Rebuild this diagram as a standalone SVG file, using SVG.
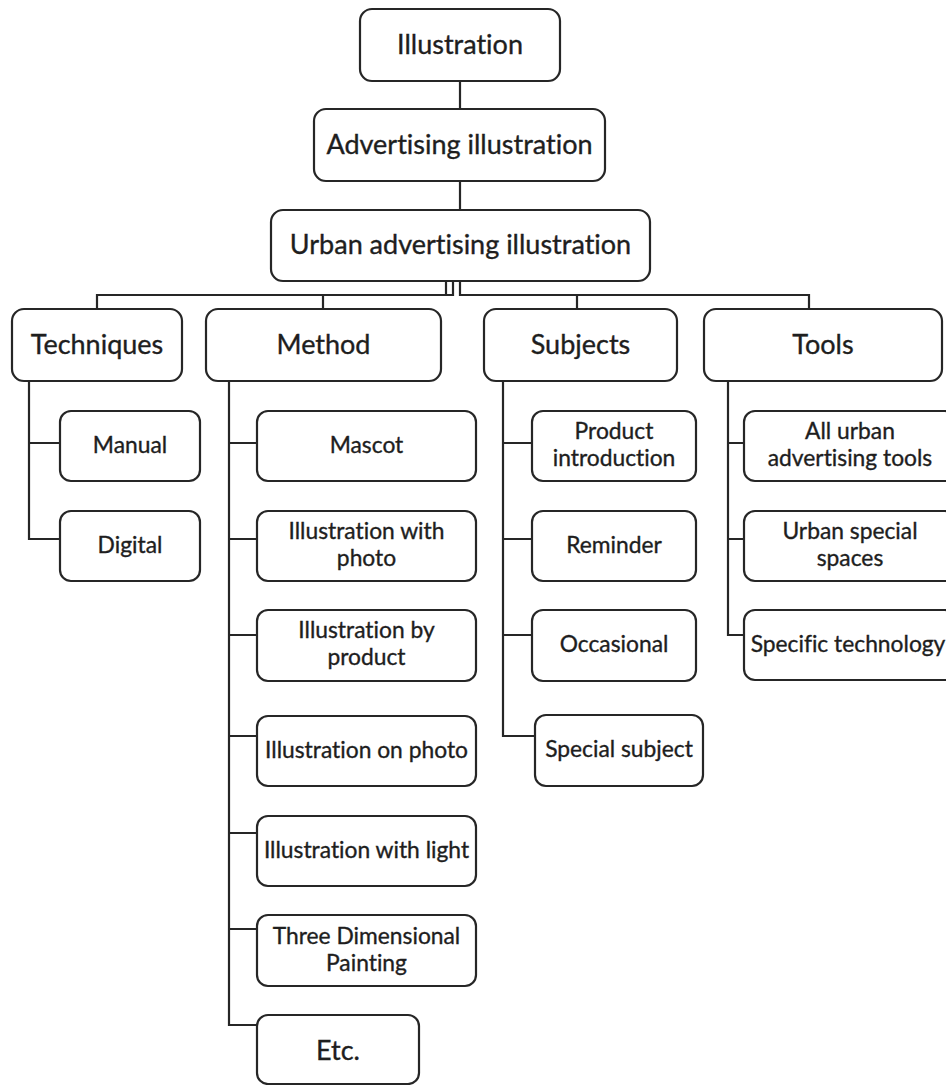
<svg xmlns="http://www.w3.org/2000/svg" width="946" height="1085" viewBox="0 0 946 1085">
<style>
.b{fill:#fff;stroke:#262626;stroke-width:2.2}
.t{font-family:Lato,"Open Sans","Liberation Sans",sans-serif;fill:#1e1e1e;stroke:#1e1e1e;stroke-width:0.35;text-anchor:middle;font-variant-ligatures:none}
.h{font-size:27px}
.l{font-size:22.8px}
.c{fill:none;stroke:#262626;stroke-width:2.2}
</style>
<rect width="946" height="1085" fill="#fff"/>
<g id="connectors">
<path class="c" d="M460,81V109M460,181V210"/>
<path class="c" d="M97,309V295H453V281M446,295V281M323,309V295"/>
<path class="c" d="M460,281V295H809V309M577,295V309"/>
<path class="c" d="M29,381V539H60M29,443H60"/>
<path class="c" d="M229,381V1025H257M229,443H257M229,539H257M229,635H257M229,736H257M229,833H257M229,929H257"/>
<path class="c" d="M503,381V736H535M503,443H532M503,539H532M503,635H532"/>
<path class="c" d="M728,381V635H744M728,443H744M728,539H744"/>
</g>
<g id="n-illustration"><rect class="b" x="360" y="9" width="200" height="72" rx="12"/><text class="t h" x="460" y="54">Illustration</text></g>
<g id="n-advertising"><rect class="b" x="314" y="109" width="291" height="72" rx="12"/><text class="t h" x="459.5" y="154">Advertising illustration</text></g>
<g id="n-urban"><rect class="b" x="271" y="210" width="379" height="71" rx="12"/><text class="t h" x="460.5" y="254">Urban advertising illustration</text></g>
<g id="n-techniques"><rect class="b" x="12" y="309" width="170" height="72" rx="12"/><text class="t h" x="97" y="354">Techniques</text></g>
<g id="n-method"><rect class="b" x="206" y="309" width="235" height="72" rx="12"/><text class="t h" x="323.5" y="354">Method</text></g>
<g id="n-subjects"><rect class="b" x="484" y="309" width="193" height="72" rx="12"/><text class="t h" x="580.5" y="354">Subjects</text></g>
<g id="n-tools"><rect class="b" x="704" y="309" width="238" height="72" rx="12"/><text class="t h" x="823" y="354">Tools</text></g>
<g id="n-manual"><rect class="b" x="60" y="411" width="140" height="70" rx="11"/><text class="t l" x="130" y="453">Manual</text></g>
<g id="n-digital"><rect class="b" x="60" y="511" width="140" height="70" rx="11"/><text class="t l" x="130" y="553">Digital</text></g>
<g id="n-mascot"><rect class="b" x="257" y="411" width="219" height="70" rx="11"/><text class="t l" x="366.5" y="453">Mascot</text></g>
<g id="n-illus-with-photo"><rect class="b" x="257" y="511" width="219" height="70" rx="11"/><text class="t l" x="366.5" y="539">Illustration with</text><text class="t l" x="366.5" y="566">photo</text></g>
<g id="n-illus-by-product"><rect class="b" x="257" y="610" width="219" height="71" rx="11"/><text class="t l" x="366.5" y="638">Illustration by</text><text class="t l" x="366.5" y="665">product</text></g>
<g id="n-illus-on-photo"><rect class="b" x="257" y="716" width="219" height="70" rx="11"/><text class="t l" x="366.5" y="758">Illustration on photo</text></g>
<g id="n-illus-with-light"><rect class="b" x="257" y="816" width="219" height="70" rx="11"/><text class="t l" x="366.5" y="858">Illustration with light</text></g>
<g id="n-three-dim"><rect class="b" x="257" y="915" width="219" height="71" rx="11"/><text class="t l" x="366.5" y="944">Three Dimensional</text><text class="t l" x="366.5" y="971">Painting</text></g>
<g id="n-etc"><rect class="b" x="257" y="1015" width="162" height="69" rx="11"/><text class="t h" x="338" y="1060">Etc.</text></g>
<g id="n-product-intro"><rect class="b" x="532" y="411" width="164" height="70" rx="11"/><text class="t l" x="614" y="439">Product</text><text class="t l" x="614" y="466">introduction</text></g>
<g id="n-reminder"><rect class="b" x="532" y="511" width="164" height="70" rx="11"/><text class="t l" x="614" y="553">Reminder</text></g>
<g id="n-occasional"><rect class="b" x="532" y="610" width="164" height="71" rx="11"/><text class="t l" x="614" y="652">Occasional</text></g>
<g id="n-special-subject"><rect class="b" x="535" y="715" width="168" height="71" rx="11"/><text class="t l" x="619" y="757">Special subject</text></g>
<g id="n-all-urban"><rect class="b" x="744" y="411" width="212" height="70" rx="11"/><text class="t l" x="850" y="439">All urban</text><text class="t l" x="850" y="466">advertising tools</text></g>
<g id="n-urban-special"><rect class="b" x="744" y="511" width="212" height="70" rx="11"/><text class="t l" x="850" y="539">Urban special</text><text class="t l" x="850" y="566">spaces</text></g>
<g id="n-specific-tech"><rect class="b" x="744" y="610" width="212" height="70" rx="11"/><text class="t l" x="848" y="652">Specific technology</text></g>
</svg>
